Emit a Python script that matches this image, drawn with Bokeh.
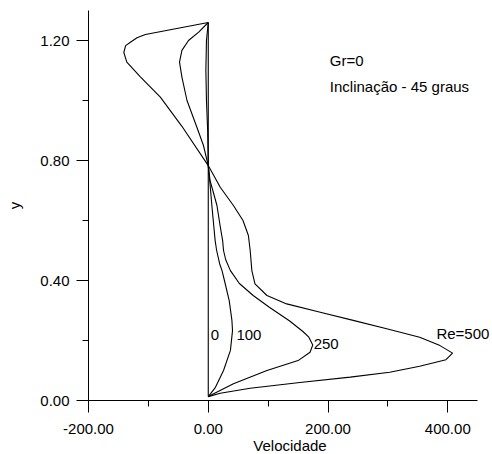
from bokeh.plotting import figure
from bokeh.models import FixedTicker, Label, Range1d
from bokeh.embed import file_html
from bokeh.resources import INLINE

# ---- data (velocity profiles) ----
re0_x = [0, 0]
re0_y = [0.013, 1.26]

re100_x = [0, 12, 25.5, 37, 40.5, 39.5, 35, 27, 23, 19, 14, 11.5, 6, 3, 0, -1, -3, -4, -3, 0]
re100_y = [0.013, 0.044, 0.10, 0.167, 0.233, 0.267, 0.333, 0.40, 0.433, 0.456, 0.50, 0.533, 0.65, 0.72, 0.783, 0.90, 1.0, 1.1, 1.2, 1.26]

re250_x = [0, 42, 98, 150, 170, 174.5, 168, 158, 136, 102, 75, 52, 37, 29, 25.5, 24, 20, 14.5, 9, 3, 0,
           -8, -19, -35.5, -44, -48, -44, -33, -16, 0]
re250_y = [0.013, 0.056, 0.10, 0.133, 0.161, 0.185, 0.211, 0.230, 0.265, 0.311, 0.350, 0.390, 0.433, 0.47, 0.50, 0.533, 0.58, 0.65, 0.69, 0.733, 0.783,
           0.85, 0.911, 1.0, 1.078, 1.128, 1.167, 1.20, 1.228, 1.26]

re500_x = [0, 20, 70, 153, 237, 303, 353, 397, 408, 387, 353, 298, 242, 187, 131, 98, 78, 72.8, 70, 67, 58, 42, 20, 0,
           -44, -80, -113, -136, -141, -138, -130, -119, -105, 0]
re500_y = [0.013, 0.024, 0.041, 0.060, 0.078, 0.094, 0.114, 0.136, 0.158, 0.183, 0.211, 0.239, 0.267, 0.294, 0.322, 0.350, 0.389, 0.433, 0.50, 0.55, 0.60, 0.65, 0.711, 0.783,
           0.914, 1.011, 1.078, 1.128, 1.160, 1.183, 1.194, 1.209, 1.22, 1.26]

curve_labels = ["0", "100", "250", "Re=500"]
curve_label_x = [4, 47, 176, 381]
curve_label_y = [0.22, 0.22, 0.188, 0.225]

x_ticks = [-200, 0, 200, 400]
x_tick_labels = ["-200.00", "0.00", "200.00", "400.00"]
x_minor = [-100, 100, 300]
y_ticks = [0.0, 0.4, 0.8, 1.2]
y_tick_labels = ["0.00", "0.40", "0.80", "1.20"]
y_minor = [0.2, 0.6, 1.0]

FONT = "Liberation Sans"
FS = "15px"

p = figure(frame_width=403, frame_height=390,
           x_range=Range1d(-200, 473), y_range=Range1d(0, 1.3),
           output_backend="svg", toolbar_location=None,
           min_border_left=88, min_border_right=0, min_border_top=10, min_border_bottom=53)
p.outline_line_color = None
p.xgrid.visible = False
p.ygrid.visible = False

for xs, ys in [(re0_x, re0_y), (re100_x, re100_y), (re250_x, re250_y), (re500_x, re500_y)]:
    p.line(xs, ys, line_color="black", line_width=1.1)

for t, lx, ly in zip(curve_labels, curve_label_x, curve_label_y):
    p.add_layout(Label(x=lx, y=ly, text=t, text_align="left", text_baseline="middle",
                       text_font=FONT, text_font_size=FS, text_color="black"))

p.add_layout(Label(x=203, y=1.135, text="Gr=0", text_align="left", text_baseline="middle",
                   text_font=FONT, text_font_size=FS, text_color="black"))
p.add_layout(Label(x=203, y=1.047, text="Inclinação - 45 graus", text_align="left", text_baseline="middle",
                   text_font=FONT, text_font_size=FS, text_color="black"))

p.xaxis.ticker = FixedTicker(ticks=x_ticks, minor_ticks=x_minor)
p.yaxis.ticker = FixedTicker(ticks=y_ticks, minor_ticks=y_minor)
p.xaxis.major_label_overrides = dict(zip(x_ticks, x_tick_labels))
p.yaxis.major_label_overrides = dict(zip(y_ticks, y_tick_labels))
p.xaxis.bounds = (-200, 450)
p.yaxis.bounds = (0, 1.3)
p.xaxis.axis_label = "Velocidade"
p.yaxis.axis_label = "y"

for ax in (p.xaxis, p.yaxis):
    ax.axis_line_color = "black"
    ax.major_tick_line_color = "black"
    ax.minor_tick_line_color = "black"
    ax.major_tick_in = 0
    ax.major_tick_out = 12
    ax.minor_tick_in = 0
    ax.minor_tick_out = 6
    ax.major_label_text_font = FONT
    ax.major_label_text_font_size = FS
    ax.major_label_text_color = "black"
    ax.axis_label_text_font = FONT
    ax.axis_label_text_font_size = FS
    ax.axis_label_text_font_style = "normal"
    ax.axis_label_text_color = "black"

p.xaxis.major_label_standoff = 11
p.xaxis.axis_label_standoff = 0
p.yaxis.major_label_standoff = 7
p.yaxis.axis_label_standoff = 14

open("out.html", "w").write(file_html(p, INLINE))
